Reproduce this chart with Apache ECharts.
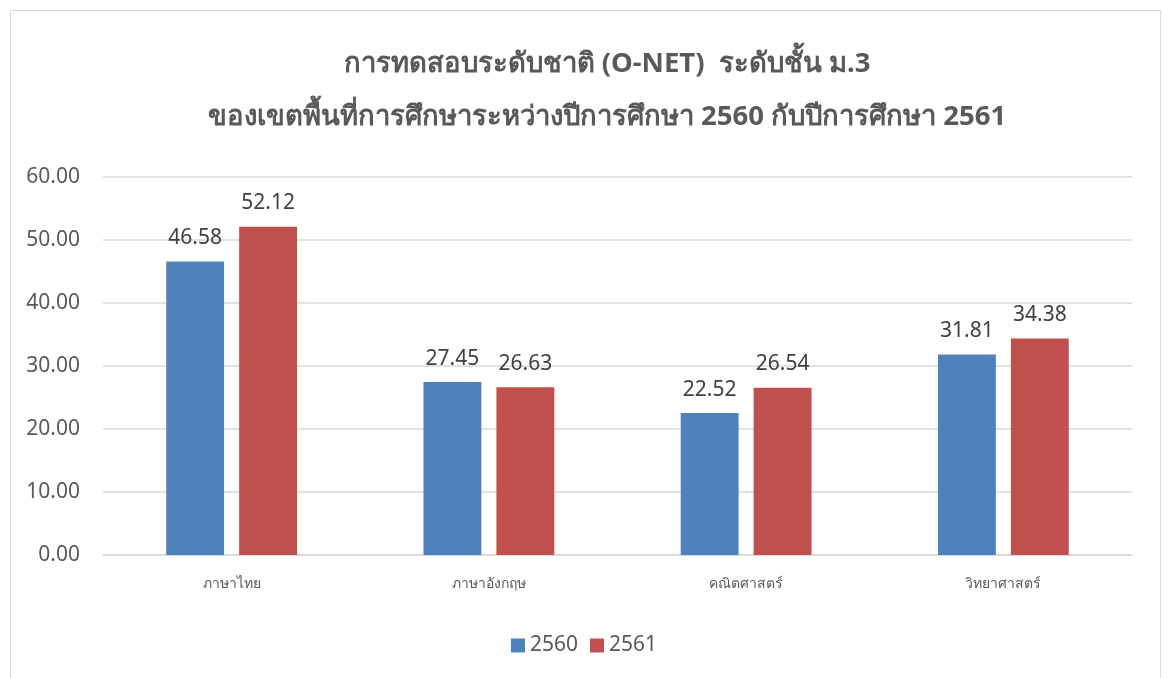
<!DOCTYPE html>
<html>
<head>
<meta charset="utf-8">
<script src="https://cdn.jsdelivr.net/npm/echarts@6/dist/echarts.min.js"></script>
<style>
    html, body { margin: 0; padding: 0; background: #fff; }
    #chart { width: 1168px; height: 678px; }
    .frame {
        position: absolute;
        left: 10px;
        top: 10px;
        width: 1149px;
        height: 680px;
        border: 1px solid #d9d9d9;
        pointer-events: none;
    }
</style>
</head>
<body>
<div id="chart"></div>
<div class="frame"></div>
<script>
const TITLE_LINES = [
    'การทดสอบระดับชาติ (O-NET)  ระดับชั้น ม.3',
    'ของเขตพื้นที่การศึกษาระหว่างปีการศึกษา 2560 กับปีการศึกษา 2561'
];
const subjects = ['ภาษาไทย', 'ภาษาอังกฤษ', 'คณิตศาสตร์', 'วิทยาศาสตร์'];
const seriesNames = ['2560', '2561'];
const scores2560 = [46.58, 27.45, 22.52, 31.81];
const scores2561 = [52.12, 26.63, 26.54, 34.38];
const seriesColors = ['#4f81bd', '#c0504d'];

const FONT = '"Noto Sans", "DejaVu Sans", sans-serif';
const TEXT_GREY = '#595959';

function makeSeries(name, data, color) {
    return {
        name,
        type: 'bar',
        data,
        barWidth: '22.5%',
        barGap: '26%',
        itemStyle: { color },
        label: {
            show: true,
            position: 'top',
            distance: 13,
            formatter: params => params.value.toFixed(2),
            fontFamily: FONT,
            fontSize: 21,
            color: '#404040'
        }
    };
}

const chart = echarts.init(document.getElementById('chart'), null, { renderer: 'canvas' });
chart.setOption({
    animation: false,
    backgroundColor: '#fff',
    title: {
        text: TITLE_LINES.join('\n'),
        // the title sits a little right of the frame centre
        left: 602,
        top: 33,
        textAlign: 'center',
        textStyle: {
            fontFamily: FONT,
            fontSize: 27.5,
            fontWeight: 'bold',
            color: TEXT_GREY,
            lineHeight: 53
        }
    },
    legend: {
        data: seriesNames,
        bottom: 17,
        left: 'center',
        itemWidth: 14,
        itemHeight: 14,
        itemGap: 12,
        icon: 'rect',
        textStyle: { fontFamily: FONT, fontSize: 21, color: TEXT_GREY }
    },
    grid: {
        left: 103,
        right: 36,
        top: 177,
        bottom: 123,
        containLabel: false
    },
    xAxis: {
        type: 'category',
        data: subjects,
        axisLine: { lineStyle: { color: '#d9d9d9', width: 1.5 } },
        axisTick: { show: false },
        axisLabel: {
            fontFamily: FONT,
            fontSize: 14,
            color: TEXT_GREY,
            margin: 22
        }
    },
    yAxis: {
        type: 'value',
        min: 0,
        max: 60,
        interval: 10,
        axisLine: { show: false },
        axisTick: { show: false },
        splitLine: { lineStyle: { color: '#d9d9d9', width: 1.5 } },
        axisLabel: {
            fontFamily: FONT,
            fontSize: 21,
            color: TEXT_GREY,
            margin: 23,
            formatter: value => value.toFixed(2)
        }
    },
    series: [
        makeSeries(seriesNames[0], scores2560, seriesColors[0]),
        makeSeries(seriesNames[1], scores2561, seriesColors[1])
    ]
});
</script>
</body>
</html>
